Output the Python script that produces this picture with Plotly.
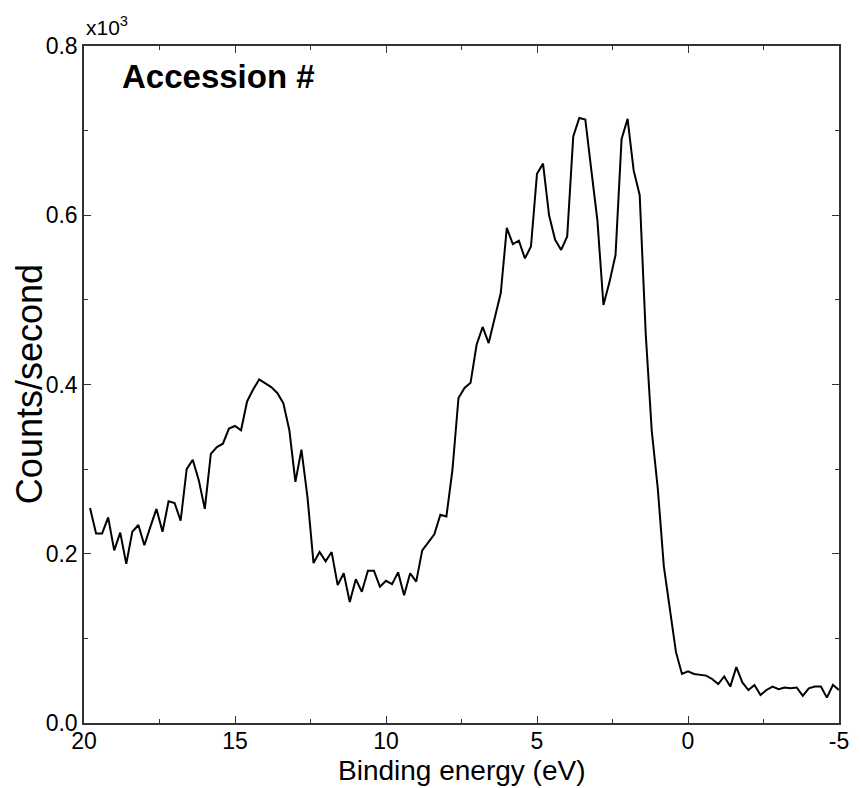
import plotly.graph_objects as go

binding_energy_ev = [
    19.8, 19.6, 19.4, 19.2, 19.0, 18.8, 18.6, 18.4, 18.2, 18.0,
    17.8, 17.6, 17.4, 17.2, 17.0, 16.8, 16.6, 16.4, 16.2, 16.0,
    15.8, 15.6, 15.4, 15.2, 15.0, 14.8, 14.6, 14.4, 14.2, 14.0,
    13.8, 13.6, 13.4, 13.2, 13.0, 12.8, 12.6, 12.4, 12.2, 12.0,
    11.8, 11.6, 11.4, 11.2, 11.0, 10.8, 10.6, 10.4, 10.2, 10.0,
    9.8, 9.6, 9.4, 9.2, 9.0, 8.8, 8.6, 8.4, 8.2, 8.0,
    7.8, 7.6, 7.4, 7.2, 7.0, 6.8, 6.6, 6.4, 6.2, 6.0,
    5.8, 5.6, 5.4, 5.2, 5.0, 4.8, 4.6, 4.4, 4.2, 4.0,
    3.8, 3.6, 3.4, 3.2, 3.0, 2.8, 2.6, 2.4, 2.2, 2.0,
    1.8, 1.6, 1.4, 1.2, 1.0, 0.8, 0.6, 0.4, 0.2, 0.0,
    -0.2, -0.4, -0.6, -0.8, -1.0, -1.2, -1.4, -1.6, -1.8, -2.0,
    -2.2, -2.4, -2.6, -2.8, -3.0, -3.2, -3.4, -3.6, -3.8, -4.0,
    -4.2, -4.4, -4.6, -4.8, -5.0,
]

counts_k = [
    0.254, 0.224, 0.224, 0.243, 0.204, 0.225, 0.188, 0.226, 0.234, 0.210,
    0.232, 0.253, 0.226, 0.262, 0.260, 0.239, 0.300, 0.311, 0.287, 0.253,
    0.318, 0.326, 0.330, 0.348, 0.351, 0.346, 0.380, 0.394, 0.406, 0.401,
    0.397, 0.390, 0.378, 0.346, 0.285, 0.323, 0.267, 0.189, 0.202, 0.191,
    0.202, 0.163, 0.177, 0.143, 0.170, 0.155, 0.180, 0.180, 0.161, 0.168,
    0.164, 0.178, 0.151, 0.177, 0.167, 0.204, 0.214, 0.223, 0.246, 0.244,
    0.299, 0.384, 0.396, 0.402, 0.447, 0.468, 0.449, 0.478, 0.508, 0.585,
    0.566, 0.570, 0.549, 0.563, 0.649, 0.661, 0.600, 0.571, 0.559, 0.575,
    0.693, 0.715, 0.713, 0.653, 0.594, 0.494, 0.521, 0.553, 0.690, 0.714,
    0.653, 0.624, 0.460, 0.345, 0.277, 0.185, 0.132, 0.084, 0.058, 0.061,
    0.058, 0.057, 0.056, 0.052, 0.046, 0.055, 0.043, 0.066, 0.048, 0.039,
    0.045, 0.033, 0.039, 0.043, 0.040, 0.042, 0.041, 0.042, 0.032, 0.041,
    0.043, 0.043, 0.030, 0.045, 0.039,
]

x_ticks = [20, 15, 10, 5, 0, -5]
x_tick_labels = ["20", "15", "10", "5", "0", "-5"]
y_ticks = [0.0, 0.2, 0.4, 0.6, 0.8]
y_tick_labels = ["0.0", "0.2", "0.4", "0.6", "0.8"]

FONT = "Liberation Sans, Arial, sans-serif"
AXIS_COLOR = "#333333"

fig = go.Figure()
fig.add_trace(go.Scatter(
    x=binding_energy_ev, y=counts_k, mode="lines",
    line=dict(color="black", width=2), showlegend=False,
))

common_axis = dict(
    showline=True, linecolor=AXIS_COLOR, linewidth=1.5, mirror="allticks",
    ticks="inside", ticklen=7, tickwidth=1.2, tickcolor=AXIS_COLOR,
    showgrid=False, zeroline=False,
    tickfont=dict(family=FONT, size=23, color="black"),
)

fig.update_xaxes(
    range=[20, -5], tickmode="array", tickvals=x_ticks, ticktext=x_tick_labels,
    ticklabelstandoff=-3,
    minor=dict(ticks="inside", ticklen=4, dtick=2.5, tickcolor=AXIS_COLOR, tickwidth=1.2, showgrid=False),
    **common_axis,
)
fig.update_yaxes(
    range=[0, 0.8], tickmode="array", tickvals=y_ticks, ticktext=y_tick_labels,
    minor=dict(ticks="inside", ticklen=4, dtick=0.1, tickcolor=AXIS_COLOR, tickwidth=1.2, showgrid=False),
    **common_axis,
)

# axis titles as annotations for precise placement
fig.add_annotation(
    text="Binding energy (eV)", xref="paper", yref="paper", x=0.5, y=-0.07,
    xanchor="center", yanchor="middle", showarrow=False, borderpad=0,
    font=dict(family=FONT, size=28, color="black"),
)
fig.add_annotation(
    text="Counts/second", xref="paper", yref="paper", x=-0.072, y=0.5,
    xanchor="center", yanchor="middle", showarrow=False, textangle=-90,
    font=dict(family=FONT, size=36, color="black"),
)

fig.add_annotation(
    text="<b>Accession #</b>", xref="paper", yref="paper", x=0.048, y=0.985,
    xanchor="left", yanchor="top", showarrow=False,
    font=dict(family=FONT, size=33, color="black"),
)
fig.add_annotation(
    text="x10<sup>3</sup>", xref="paper", yref="paper", x=0.0, y=1.0,
    xanchor="left", yanchor="bottom", showarrow=False, yshift=5,
    font=dict(family=FONT, size=21, color="black"),
)

# page body adds an 8px offset; size the figure so the plot area lands at
# x 84..848, y 46..723 in the 861x788 window
fig.update_layout(
    width=853, height=780,
    margin=dict(l=76, r=13, t=38, b=65),
    paper_bgcolor="white", plot_bgcolor="white",
)

fig.write_html("out.html")
